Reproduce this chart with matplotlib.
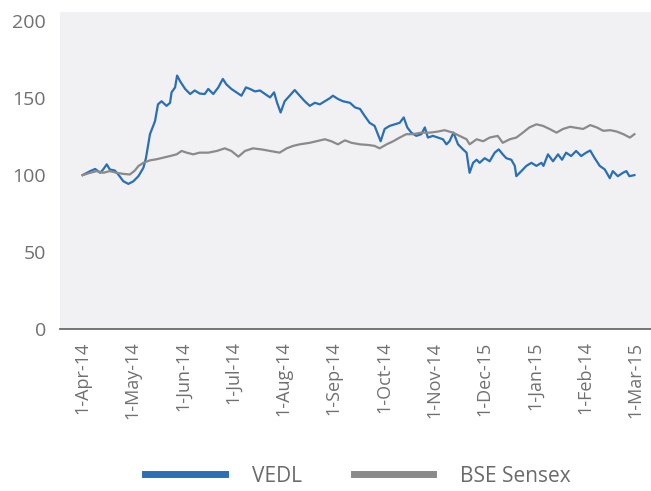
import matplotlib
matplotlib.use("Agg")
import matplotlib.pyplot as plt

plt.rcParams['font.family'] = ['Open Sans', 'DejaVu Sans']

# Month ticks (equally spaced categories)
tick_labels = ['1-Apr-14', '1-May-14', '1-Jun-14', '1-Jul-14', '1-Aug-14', '1-Sep-14',
               '1-Oct-14', '1-Nov-14', '1-Dec-15', '1-Jan-15', '1-Feb-14', '1-Mar-15']

# VEDL: time in months since 1-Apr-14, indexed value
vedl_t = [0.00, 0.15, 0.25, 0.35, 0.41, 0.48, 0.54, 0.64, 0.71, 0.81, 0.91, 1.01, 1.11, 1.17,
          1.21, 1.26, 1.34, 1.44, 1.50, 1.57, 1.67, 1.74, 1.77, 1.84, 1.88, 1.94, 2.04, 2.14,
          2.23, 2.33, 2.43, 2.50, 2.60, 2.70, 2.79, 2.86, 2.96, 3.06, 3.16, 3.25, 3.33, 3.43,
          3.53, 3.63, 3.73, 3.81, 3.87, 3.94, 4.02, 4.12, 4.22, 4.32, 4.42, 4.52, 4.62, 4.72,
          4.82, 4.92, 4.98, 5.08, 5.18, 5.32, 5.42, 5.52, 5.61, 5.71, 5.81, 5.93, 6.01, 6.11,
          6.21, 6.31, 6.39, 6.46, 6.54, 6.64, 6.74, 6.81, 6.87, 6.97, 7.07, 7.17, 7.24, 7.30,
          7.38, 7.47, 7.57, 7.64, 7.70, 7.77, 7.84, 7.90, 8.00, 8.10, 8.20, 8.28, 8.36, 8.43,
          8.53, 8.60, 8.63, 8.73, 8.83, 8.93, 9.03, 9.13, 9.17, 9.26, 9.36, 9.46, 9.54, 9.62,
          9.72, 9.82, 9.92, 10.02, 10.10, 10.19, 10.29, 10.39, 10.49, 10.55, 10.65, 10.75,
          10.82, 10.88, 10.98]
vedl_v = [100, 102.6, 104, 101.5, 103.7, 107, 103.7, 103, 100.4, 96, 94.3, 96, 99.3, 102.6,
          104.8, 111, 126.6, 135, 146, 148, 145, 147, 153.8, 157, 164.7, 161, 156, 152.7,
          155, 153, 152.7, 156, 152.7, 157, 162.5, 159, 156, 153.8, 151.6, 157, 156, 154.4,
          155, 152.7, 150.5, 153.8, 147, 140.7, 148, 151.6, 155.3, 151.6, 148, 145, 147, 146,
          148, 150, 151.6, 149.5, 148, 147, 144, 143, 138.6, 134, 132, 122, 130, 132,
          133, 134, 137.5, 131, 127.6, 125.5, 126.6, 131, 124.4, 125.5, 124.4, 123.3, 120, 122,
          127.6, 120, 116.7, 114.6, 101.5, 108, 110, 108, 111, 109, 114.6, 116.7, 113.5, 111,
          110, 106, 99.3, 102.6, 106, 108, 106, 108, 106, 113.5, 109, 113.5, 110, 114.6,
          112.4, 115.7, 112.4, 114.6, 116, 111, 106, 103.7, 98, 102.6, 99.3, 101.5,
          102.6, 99.3, 100]

# BSE Sensex
bse_t = [0.00, 0.15, 0.28, 0.41, 0.54, 0.68, 0.81, 0.94, 1.04, 1.11, 1.21, 1.34, 1.47, 1.60,
         1.74, 1.87, 1.97, 2.07, 2.20, 2.33, 2.50, 2.67, 2.83, 2.96, 3.10, 3.23, 3.39, 3.56,
         3.73, 3.92, 4.06, 4.19, 4.32, 4.52, 4.65, 4.82, 4.95, 5.08, 5.22, 5.35, 5.52, 5.68,
         5.81, 5.91, 6.05, 6.18, 6.31, 6.44, 6.57, 6.74, 6.91, 7.07, 7.20, 7.37, 7.50, 7.64,
         7.70, 7.84, 7.97, 8.10, 8.26, 8.36, 8.50, 8.63, 8.76, 8.89, 9.03, 9.16, 9.29, 9.43,
         9.56, 9.70, 9.83, 9.96, 10.10, 10.23, 10.36, 10.50, 10.63, 10.76, 10.89, 10.98]
bse_v = [100, 101.5, 102.6, 101.5, 102.6, 101.5, 100.8, 100.4, 103, 105.9, 108, 109.6, 110.3, 111.3,
         112.4, 113.5, 115.7, 114.6, 113.5, 114.6, 114.6, 115.7, 117.4, 115.7, 112, 115.7, 117.4, 116.7,
         115.7, 114.6, 117.4, 119, 120, 121, 122, 123.3, 122, 120, 122.6, 121, 120, 119.6,
         119, 117.4, 120, 122, 124.4, 126.6, 126.6, 127.6, 127.6, 128.3, 129.2, 127.6, 125.5, 123.3,
         120, 123.3, 122, 124.4, 125.5, 121, 123.3, 124.4, 127.6, 131, 133, 132, 130, 127.6,
         130, 131.4, 130.7, 130, 132.5, 131, 128.8, 129.2, 128.3, 126.6, 124.4, 126.6]

series_names = ['VEDL', 'BSE Sensex']
yticks = [0, 50, 100, 150, 200]

fig = plt.figure(figsize=(6.51, 4.91), dpi=100)
ax = fig.add_axes([60/651, 162/491, 591/651, 317/491])
ax.set_facecolor('#f1f1f3')

l1, = ax.plot(vedl_t, vedl_v, color='#2a6fb4', lw=1.6, label=series_names[0])
l2, = ax.plot(bse_t, bse_v, color='#8a8a8a', lw=1.6, label=series_names[1])

ax.set_xlim(-0.45, 11.31)
ax.set_ylim(0, 206)
ax.set_xticks(range(len(tick_labels)))
ax.set_xticklabels(tick_labels, rotation=90, va='top', ha='center')
ax.set_yticks(yticks)
for s in ['top', 'right', 'left']:
    ax.spines[s].set_visible(False)
ax.spines['bottom'].set_color('#6a6a6a')
ax.spines['bottom'].set_linewidth(1.3)
ax.tick_params(axis='both', length=0, colors='#707070')
ax.tick_params(axis='x', labelsize=13, pad=9)
ax.tick_params(axis='y', labelsize=14, pad=10)

leg = fig.legend(handles=[l1, l2], loc='center', bbox_to_anchor=(358/651, 15/491),
                 ncol=2, frameon=False, fontsize=15, handlelength=3.8,
                 handletextpad=1.3, columnspacing=2.5, labelcolor='#6a6a6a')
for h in leg.legend_handles:
    h.set_linewidth(5)

fig.savefig('out.png', dpi=100)
